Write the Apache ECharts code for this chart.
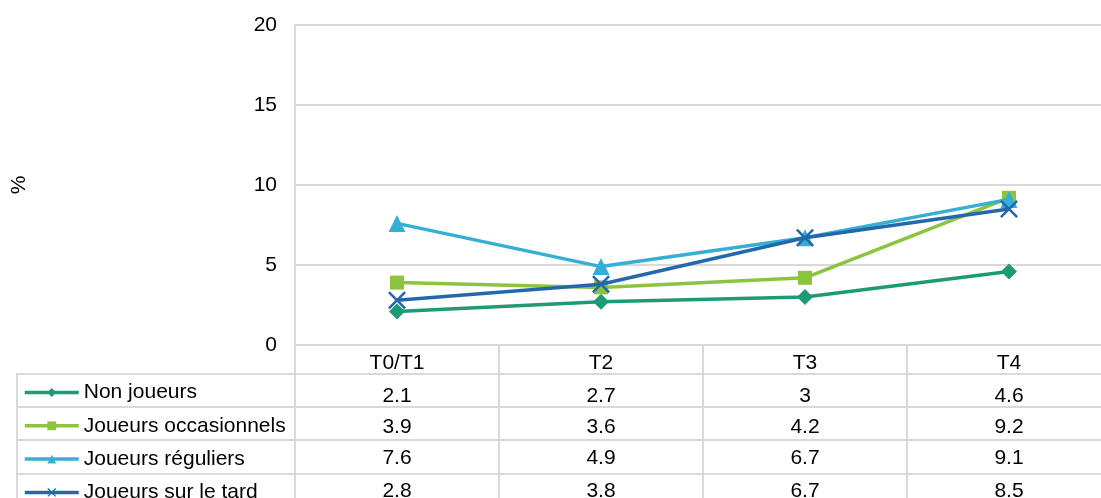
<!DOCTYPE html>
<html><head><meta charset="utf-8">
<script src="https://cdn.jsdelivr.net/npm/echarts@6/dist/echarts.min.js"></script>
<style>html,body{margin:0;padding:0;background:#fff}#c{width:1101px;height:498px}</style>
</head><body><div id="c"></div>
<script>
const categories = ['T0/T1', 'T2', 'T3', 'T4'];
const seriesNames = ['Non joueurs', 'Joueurs occasionnels', 'Joueurs réguliers', 'Joueurs sur le tard'];
const nonJoueurs = [2.1, 2.7, 3, 4.6];
const occasionnels = [3.9, 3.6, 4.2, 9.2];
const reguliers = [7.6, 4.9, 6.7, 9.1];
const surLeTard = [2.8, 3.8, 6.7, 8.5];
const yTicks = [0, 5, 10, 15, 20];

const values = [nonJoueurs, occasionnels, reguliers, surLeTard];
const colors = ['#1F9A76', '#8CC43F', '#35AFD3', '#2468AC'];
const symbols = ['diamond', 'rect', 'triangle',
  'path://M2,0 L10,8 L18,0 L20,2 L12,10 L20,18 L18,20 L10,12 L2,20 L0,18 L8,10 L0,2 Z'];
const symbolSizes = [16, 14, 17, 18];
const FONT = 'Liberation Sans, Arial, sans-serif';
const FS = 21;
const GRIDC = '#d9d9d9';

const xAxes = [{
  type: 'category', data: categories, position: 'bottom', gridIndex: 0,
  boundaryGap: true,
  axisLine: { show: true, lineStyle: { color: GRIDC, width: 2 } },
  axisTick: { show: true, length: 170, interval: 0, lineStyle: { color: GRIDC, width: 2 } },
  axisLabel: { color: '#000', fontSize: FS, fontFamily: FONT, margin: 8 },
  splitLine: { show: false }
}];
values.forEach((arr, i) => {
  xAxes.push({
    type: 'category', data: categories, position: 'bottom', gridIndex: 0,
    offset: [33, 64, 95, 128][i],
    axisLine: { show: false }, axisTick: { show: false }, splitLine: { show: false },
    axisLabel: { color: '#000', fontSize: FS, fontFamily: FONT, margin: 8,
      formatter: (v, idx) => String(arr[idx]) }
  });
});

const lines = [];
[374, 407, 440, 474].forEach(y => lines.push({
  type: 'line', shape: { x1: 17, y1: y, x2: 1112, y2: y },
  style: { stroke: GRIDC, lineWidth: 2 }, silent: true
}));
lines.push({ type: 'line', shape: { x1: 17, y1: 373, x2: 17, y2: 498 },
  style: { stroke: GRIDC, lineWidth: 2 }, silent: true });

const option = {
  backgroundColor: '#fff',
  animation: false,
  grid: { left: 295, top: 25, width: 816, height: 320, containLabel: false, outerBoundsMode: 'none' },
  legend: {
    type: 'plain', orient: 'vertical', left: 23, top: 382, height: 200, padding: 0,
    itemGap: 12.3, itemWidth: 54, itemHeight: 11, selectedMode: false,
    lineStyle: { width: 3.5 },
    textStyle: { color: '#000', fontSize: FS, fontFamily: FONT, lineHeight: 20 },
    data: seriesNames
  },
  xAxis: xAxes,
  yAxis: {
    type: 'value', min: yTicks[0], max: yTicks[yTicks.length - 1], interval: 5,
    name: '%', nameLocation: 'middle', nameRotate: 90, nameGap: 265,
    nameTextStyle: { color: '#000', fontSize: FS, fontFamily: FONT },
    axisLine: { show: true, lineStyle: { color: GRIDC, width: 2 } },
    axisTick: { show: false },
    axisLabel: { color: '#000', fontSize: FS, fontFamily: FONT, margin: 18 },
    splitLine: { show: true, lineStyle: { color: GRIDC, width: 2 } }
  },
  graphic: lines,
  series: values.map((arr, i) => ({
    name: seriesNames[i], type: 'line', data: arr, xAxisIndex: 0,
    symbol: symbols[i], symbolSize: symbolSizes[i], showAllSymbol: true,
    lineStyle: { color: colors[i], width: 3.5 },
    itemStyle: { color: colors[i] },
    z: 3 + i
  }))
};
echarts.init(document.getElementById('c')).setOption(option);
</script></body></html>
